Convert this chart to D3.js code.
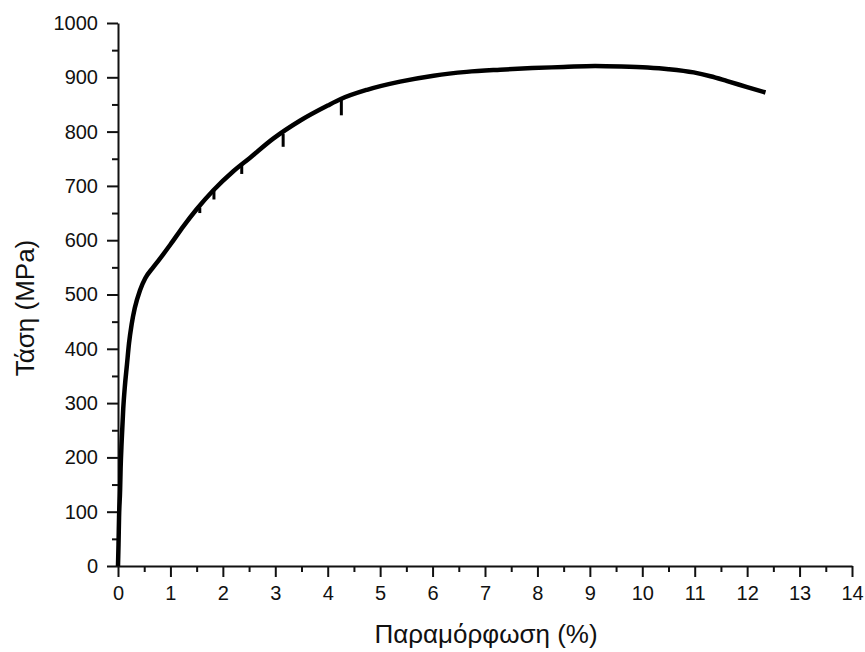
<!DOCTYPE html>
<html>
<head>
<meta charset="utf-8">
<script src="https://cdn.jsdelivr.net/npm/d3@7"></script>
<style>
  html, body { margin: 0; padding: 0; background: #fff; }
  svg { display: block; }
  text { font-family: "Liberation Sans", Arial, sans-serif; fill: #111; }
</style>
</head>
<body>
<script>
// Strain (%) and stress (MPa)
const strain = [0, 0.01, 0.02, 0.04, 0.05, 0.07, 0.1, 0.13, 0.17, 0.21, 0.26, 0.32, 0.42, 0.52, 0.67, 0.8, 1.0, 1.25, 1.5, 1.82, 2.2, 2.52, 2.96, 3.47, 4.0, 4.25, 4.75, 5.38, 6.02, 6.65, 7.29, 7.9, 8.5, 9.1, 9.6, 10.1, 10.5, 10.98, 11.3, 11.62, 12.0, 12.35];
const stress = [0, 40, 90, 140, 180, 230, 290, 330, 370, 410, 445, 475, 508, 530, 550, 566, 592, 626, 657, 692, 727, 752, 787, 820, 848, 860, 877, 892, 903, 910, 914, 917, 919, 921, 920, 918, 915, 909, 902, 893, 882, 872];

// Small unloading spikes: strain, top and bottom stress
const spikeStrain = [1.56, 1.83, 2.36, 3.15, 4.26];
const spikeTop = [660, 693, 738, 796, 862];
const spikeLow = [650, 675, 722, 772, 830];

const xTicks = d3.range(0, 15, 1);
const yTicks = d3.range(0, 1001, 100);
const xMinor = d3.range(0.5, 14, 1);
const yMinor = d3.range(50, 1000, 100);
const xTitle = "Παραμόρφωση (%)";
const yTitle = "Τάση (MPa)";

const W = 865, H = 652;
const m = { left: 118, right: 13, top: 23, bottom: 86 };

const svg = d3.select("body").append("svg").attr("width", W).attr("height", H);

const x = d3.scaleLinear().domain([0, 14]).range([m.left, W - m.right]);
const y = d3.scaleLinear().domain([0, 1000]).range([H - m.bottom, m.top]);

// minor ticks
svg.append("g").attr("transform", `translate(0,${H - m.bottom})`)
  .call(d3.axisBottom(x).tickValues(xMinor).tickSize(6).tickFormat(""))
  .call(g => g.select(".domain").remove())
  .call(g => g.selectAll("line").attr("stroke", "#111").attr("stroke-width", 2));
svg.append("g").attr("transform", `translate(${m.left},0)`)
  .call(d3.axisLeft(y).tickValues(yMinor).tickSize(6).tickFormat(""))
  .call(g => g.select(".domain").remove())
  .call(g => g.selectAll("line").attr("stroke", "#111").attr("stroke-width", 2));

// major axes
const xAxis = svg.append("g").attr("transform", `translate(0,${H - m.bottom})`)
  .call(d3.axisBottom(x).tickValues(xTicks).tickSize(11).tickSizeOuter(0).tickPadding(9).tickFormat(d3.format("d")));
const yAxis = svg.append("g").attr("transform", `translate(${m.left},0)`)
  .call(d3.axisLeft(y).tickValues(yTicks).tickSize(11).tickSizeOuter(0).tickPadding(9).tickFormat(d3.format("d")));
[xAxis, yAxis].forEach(g => {
  g.select(".domain").attr("stroke", "#111").attr("stroke-width", 2);
  g.selectAll(".tick line").attr("stroke", "#111").attr("stroke-width", 2);
  g.selectAll(".tick text").attr("font-size", 20).attr("font-family", "'Liberation Sans', Arial, sans-serif").attr("fill", "#111");
});

// curve
const pts = strain.map((s, i) => [s, stress[i]]);
svg.append("path")
  .datum(pts)
  .attr("fill", "none")
  .attr("stroke", "#000")
  .attr("stroke-width", 4.5)
  .attr("stroke-linejoin", "round")
  .attr("stroke-linecap", "butt")
  .attr("d", d3.line().curve(d3.curveMonotoneX).x(d => x(d[0])).y(d => y(d[1])));

// spikes
svg.append("g").selectAll("line")
  .data(spikeStrain.map((s, i) => ({ s, top: spikeTop[i], low: spikeLow[i] })))
  .join("line")
  .attr("x1", d => x(d.s)).attr("x2", d => x(d.s))
  .attr("y1", d => y(d.top)).attr("y2", d => y(d.low))
  .attr("stroke", "#000").attr("stroke-width", 3);

// titles
svg.append("text")
  .attr("x", 486)
  .attr("y", 643)
  .attr("text-anchor", "middle")
  .attr("font-size", 26)
  .text(xTitle);
svg.append("text")
  .attr("transform", `translate(34,308) rotate(-90)`)
  .attr("text-anchor", "middle")
  .attr("font-size", 26)
  .text(yTitle);
</script>
</body>
</html>
